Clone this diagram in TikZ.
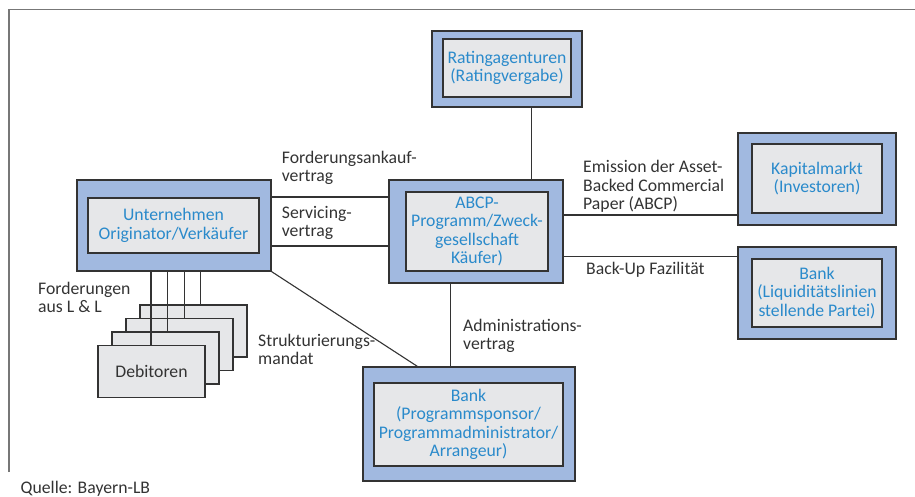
\documentclass[tikz,border=0pt]{standalone}
\usepackage{fontspec}
\setmainfont{Carlito}
\definecolor{outerblue}{HTML}{A1B9E0}
\definecolor{innergrey}{HTML}{E6E7E9}
\definecolor{textblue}{HTML}{2A8ACB}
\definecolor{bordercol}{HTML}{333333}
\definecolor{labelcol}{HTML}{333333}
\definecolor{framecol}{HTML}{777777}
\begin{document}
\begin{tikzpicture}[x=1pt,y=-1pt,
  outerbox/.style={draw=bordercol, line width=1.3pt, fill=outerblue, inner sep=0pt},
  innerbox/.style={draw=bordercol, line width=1.3pt, fill=innergrey, inner sep=0pt, align=center, text=textblue, font=\fontsize{17.7}{18.5}\selectfont},
  lbl/.style={anchor=west, inner sep=0pt, align=left, text=labelcol, font=\fontsize{17.7}{18.5}\selectfont},
  conn/.style={draw=bordercol, line width=1.1pt},
  debbox/.style={draw=bordercol, line width=1.2pt, fill=innergrey, minimum width=107pt, minimum height=52pt, inner sep=0pt, text=labelcol, font=\fontsize{17.7}{18.5}\selectfont},
  framestyle/.style={draw=framecol, line width=1.4pt}
]
\useasboundingbox (0,0) rectangle (915,497);
\draw[framestyle] (9,472) -- (9,9.3) -- (916,9.3);

% boxes
\node[outerbox, minimum width=150pt, minimum height=76pt] (rat) at (507,69) {};
\node[innerbox, minimum width=128pt, minimum height=58pt] (rati) at (507,68) {Ratingagenturen\\(Ratingvergabe)};

\node[outerbox, minimum width=174pt, minimum height=103pt] (abcp) at (476,231.5) {};
\node[innerbox, minimum width=142pt, minimum height=79pt] (abcpi) at (477,231.5) {ABCP-\\Programm/Zweck-\\gesellschaft\\Käufer)};

\node[outerbox, minimum width=194pt, minimum height=91pt] (unt) at (174,225.5) {};
\node[innerbox, minimum width=171pt, minimum height=55pt] (unti) at (173.5,225.5) {Unternehmen\\Originator/Verkäufer};

\node[outerbox, minimum width=158pt, minimum height=92pt] (kap) at (817,179) {};
\node[innerbox, minimum width=130pt, minimum height=69pt] (kapi) at (817,178.5) {Kapitalmarkt\\(Investoren)};

\node[outerbox, minimum width=158pt, minimum height=92pt] (liq) at (817,293) {};
\node[innerbox, minimum width=130pt, minimum height=68pt] (liqi) at (817,293) {Bank\\(Liquiditätslinien\\stellende Partei)};

\node[outerbox, minimum width=212pt, minimum height=114pt] (bp) at (469,424) {};
\node[innerbox, minimum width=189pt, minimum height=83pt] (bpi) at (468.5,424.5) {Bank\\(Programmsponsor/\\Programmadministrator/\\Arrangeur)};

% Debitoren stack
\node[debbox] (d4) at (193.5,331) {};
\node[debbox] (d3) at (179.5,344.5) {};
\node[debbox] (d2) at (165.5,358) {};
\node[debbox] (d1) at (151.5,371.5) {Debitoren};

% connector coordinates
\coordinate (l1) at (151,0);
\coordinate (l2) at (167.3,0);
\coordinate (l3) at (184.7,0);
\coordinate (l4) at (200.3,0);
\coordinate (h1) at (0,197);
\coordinate (h2) at (0,246);
\coordinate (h3) at (0,215);
\coordinate (h4) at (0,256.7);
\coordinate (v1) at (531.7,0);
\coordinate (v2) at (450.7,0);

\draw[conn] (unt.south -| l1) -- (d1.north -| l1);
\draw[conn] (unt.south -| l2) -- (d2.north -| l2);
\draw[conn] (unt.south -| l3) -- (d3.north -| l3);
\draw[conn] (unt.south -| l4) -- (d4.north -| l4);

\draw[conn] (unt.east |- h1) -- (abcp.west |- h1);
\draw[conn] (unt.east |- h2) -- (abcp.west |- h2);
\draw[conn] (abcp.east |- h3) -- (kap.west |- h3);
\draw[conn] (abcp.east |- h4) -- (liq.west |- h4);
\draw[conn] (rat.south -| v1) -- (abcp.north -| v1);
\draw[conn] (abcp.south -| v2) -- (bp.north -| v2);
\draw[conn] (unt.south east) -- ([xshift=55pt]bp.north west);

% labels
\node[lbl] (lab1) at (281.7,168) {Forderungsankauf-\\vertrag};
\node[lbl] (lab2) at (281.7,223) {Servicing-\\vertrag};
\node[lbl] (lab3) at (583,186.7) {Emission der Asset-\\Backed Commercial\\Paper (ABCP)};
\node[lbl] (lab4) at (586,269.3) {Back-Up Fazilität};
\node[lbl] (lab5) at (463,335.7) {Administrations-\\vertrag};
\node[lbl] (lab6) at (258,349.5) {Strukturierungs-\\mandat};
\node[lbl] (lab7) at (38,297.5) {Forderungen\\aus L \& L};
\node[lbl] (lab8) at (20.5,489) {Quelle: Bayern-LB};
\end{tikzpicture}
\end{document}
